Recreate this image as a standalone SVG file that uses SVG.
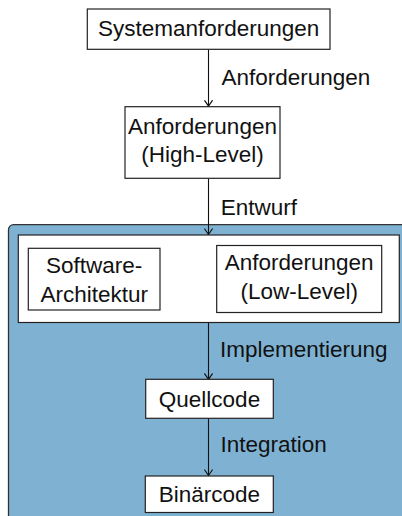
<svg xmlns="http://www.w3.org/2000/svg" width="402" height="516" viewBox="0 0 402 516">
<defs>
<style>
.box{fill:#fff;stroke:#222;stroke-width:1.2}
.t{font-family:"Liberation Sans",Arial,sans-serif;font-size:22.5px;fill:#111}
.c{text-anchor:middle}
.edge{stroke:#111;stroke-width:1.1;fill:none;marker-end:url(#ah)}
</style>
<marker id="ah" markerUnits="userSpaceOnUse" markerWidth="12" markerHeight="12" viewBox="-8 -6 10 12" refX="0" refY="0" orient="auto">
<path d="M-5.5,-3.8 Q-1.5,-1 0,0 Q-1.5,1 -5.5,3.8" fill="none" stroke="#111" stroke-width="1.2" stroke-linecap="round"/>
</marker>
</defs>
<rect id="region" x="8.5" y="224.7" width="420" height="320" rx="5" fill="#7fb2d2" stroke="#333" stroke-width="1.3"/>
<g id="connectors">
<line class="edge" x1="208.5" y1="49.3" x2="208.5" y2="106.2"/>
<line class="edge" x1="208.5" y1="178.3" x2="208.5" y2="234.5"/>
<line class="edge" x1="208.5" y1="322.5" x2="208.5" y2="379.3"/>
<line class="edge" x1="208.5" y1="418.3" x2="208.5" y2="475.5"/>
<text class="t" x="221.5" y="85">Anforderungen</text>
<text class="t" x="220.7" y="215">Entwurf</text>
<text class="t" x="220" y="356.7">Implementierung</text>
<text class="t" x="220.5" y="451.7">Integration</text>
</g>
<g id="systemanforderungen">
<rect class="box" x="87.3" y="9" width="242.7" height="40.3"/>
<text class="t c" x="208.7" y="35.5">Systemanforderungen</text>
</g>
<g id="highlevel">
<rect class="box" x="125" y="106.7" width="155" height="71.6"/>
<text class="t c" x="202.5" y="133.5">Anforderungen</text>
<text class="t c" x="202.5" y="162">(High-Level)</text>
</g>
<g id="design">
<rect class="box" x="18.3" y="235" width="381" height="87.5"/>
<g id="architektur">
<rect class="box" x="28.3" y="248.3" width="131.7" height="61.7"/>
<text class="t c" x="94.2" y="273.3">Software-</text>
<text class="t c" x="94.2" y="301.8">Architektur</text>
</g>
<g id="lowlevel">
<rect class="box" x="216.7" y="245.5" width="165" height="67"/>
<text class="t c" x="299.2" y="269.8">Anforderungen</text>
<text class="t c" x="299.2" y="299.3">(Low-Level)</text>
</g>
</g>
<g id="quellcode">
<rect class="box" x="145.7" y="379.3" width="127.6" height="39"/>
<text class="t c" x="209.5" y="406.6">Quellcode</text>
</g>
<g id="binaercode">
<rect class="box" x="145.3" y="476" width="128" height="36.5"/>
<text class="t c" x="209.3" y="501.6">Binärcode</text>
</g>
</svg>
